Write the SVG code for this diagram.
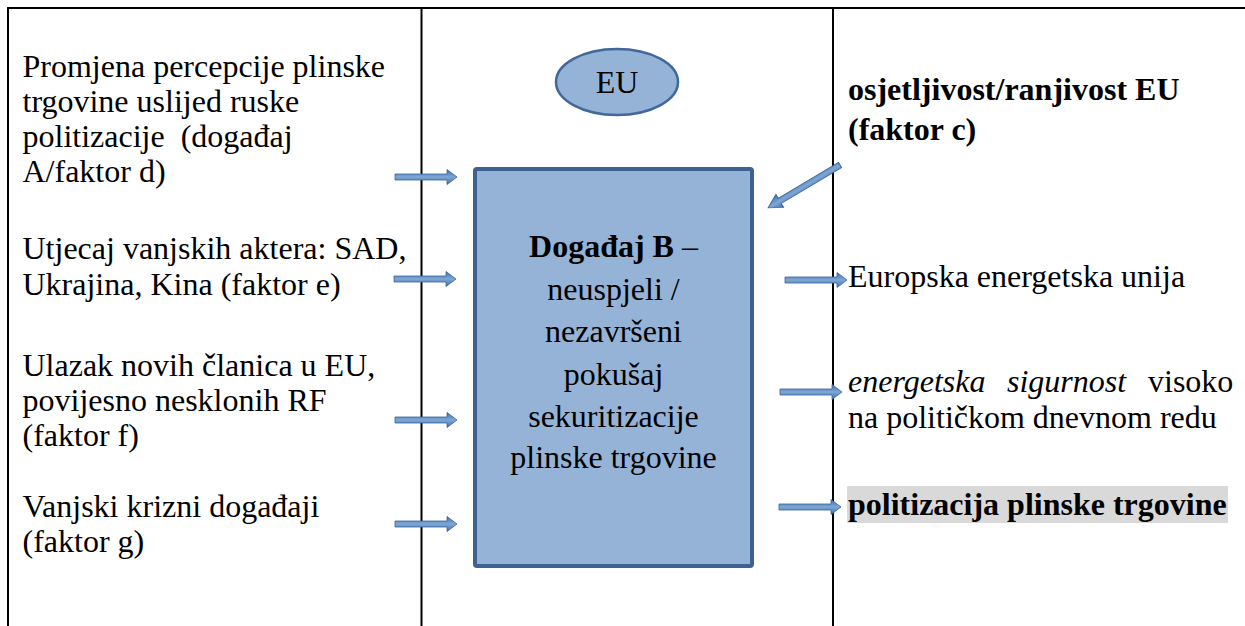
<svg xmlns="http://www.w3.org/2000/svg" width="1245" height="626" viewBox="0 0 1245 626">
<style>
  .t { font-family: "Liberation Serif", "Times New Roman", serif; font-size: 32px; fill: #000; }
  .b { font-weight: bold; }
  .i { font-style: italic; }
  .grid { stroke: #000; stroke-width: 2; fill: none; }
  .arr { fill: url(#ag); stroke: #3a659a; stroke-width: 0.8; }
</style>
<defs>
  <linearGradient id="ag" x1="0" y1="0" x2="0" y2="1">
    <stop offset="0" stop-color="#3f71aa"/>
    <stop offset="0.5" stop-color="#7fa6d6"/>
    <stop offset="1" stop-color="#3f71aa"/>
  </linearGradient>
  <path id="arrow" d="M0,-3 H52 V-7.5 L62,0 L52,7.5 V3 H0 Z"/>
</defs>

<g id="table">
  <line class="grid" x1="7" y1="8" x2="1245" y2="8"/>
  <line class="grid" x1="8" y1="7" x2="8" y2="626"/>
  <line class="grid" x1="421.5" y1="8" x2="421.5" y2="626"/>
  <line class="grid" x1="833" y1="8" x2="833" y2="626"/>
</g>

<g id="factor-d">
  <text class="t" x="22.5" y="77">Promjena percepcije plinske</text>
  <text class="t" x="22.5" y="112">trgovine uslijed ruske</text>
  <text class="t" x="22.5" y="147" xml:space="preserve">politizacije  (događaj</text>
  <text class="t" x="22.5" y="182">A/faktor d)</text>
</g>
<g id="factor-e">
  <text class="t" x="22.5" y="259">Utjecaj vanjskih aktera: SAD,</text>
  <text class="t" x="22.5" y="295">Ukrajina, Kina (faktor e)</text>
</g>
<g id="factor-f">
  <text class="t" x="22.5" y="376">Ulazak novih članica u EU,</text>
  <text class="t" x="22.5" y="411">povijesno nesklonih RF</text>
  <text class="t" x="22.5" y="446">(faktor f)</text>
</g>
<g id="factor-g">
  <text class="t" x="22.5" y="517">Vanjski krizni događaji</text>
  <text class="t" x="22.5" y="552">(faktor g)</text>
</g>

<g id="eu">
  <ellipse cx="617" cy="82" rx="61" ry="33" fill="#95b3d7" stroke="#41689a" stroke-width="2.5"/>
  <text class="t" x="617" y="93" text-anchor="middle">EU</text>
</g>

<g id="event-b">
  <rect x="475" y="169" width="277" height="397" rx="2" fill="#95b3d7" stroke="#3d6190" stroke-width="4"/>
  <text class="t" text-anchor="middle" x="613.5" y="257"><tspan class="b">Događaj B</tspan> –</text>
  <text class="t" text-anchor="middle" x="613.5" y="300">neuspjeli /</text>
  <text class="t" text-anchor="middle" x="613.5" y="342">nezavršeni</text>
  <text class="t" text-anchor="middle" x="613.5" y="385">pokušaj</text>
  <text class="t" text-anchor="middle" x="613.5" y="427">sekuritizacije</text>
  <text class="t" text-anchor="middle" x="613.5" y="468">plinske trgovine</text>
</g>

<g id="factor-c">
  <text class="t b" x="848" y="100">osjetljivost/ranjivost EU</text>
  <text class="t b" x="848" y="140">(faktor c)</text>
</g>
<g id="energy-union">
  <text class="t" x="848" y="287">Europska energetska unija</text>
</g>
<g id="energy-security">
  <text class="t" y="392"><tspan class="i" x="848">energetska</tspan><tspan class="i" x="1007">sigurnost</tspan><tspan x="1148">visoko</tspan></text>
  <text class="t" x="848" y="428">na političkom dnevnom redu</text>
</g>
<g id="politicization">
  <rect x="847" y="486" width="381" height="37" fill="#d9d9d9"/>
  <text class="t b" x="848" y="515">politizacija plinske trgovine</text>
</g>

<g id="connectors">
  <use href="#arrow" class="arr" transform="translate(395,177)"/>
  <use href="#arrow" class="arr" transform="translate(394,279)"/>
  <use href="#arrow" class="arr" transform="translate(395,420)"/>
  <use href="#arrow" class="arr" transform="translate(395,524)"/>
  <use href="#arrow" class="arr" transform="translate(785,280)"/>
  <use href="#arrow" class="arr" transform="translate(780,392)"/>
  <use href="#arrow" class="arr" transform="translate(779,507)"/>
  <use href="#arrow" class="arr" transform="translate(840,165) rotate(149.2) scale(1.35,1)"/>
</g>
</svg>
